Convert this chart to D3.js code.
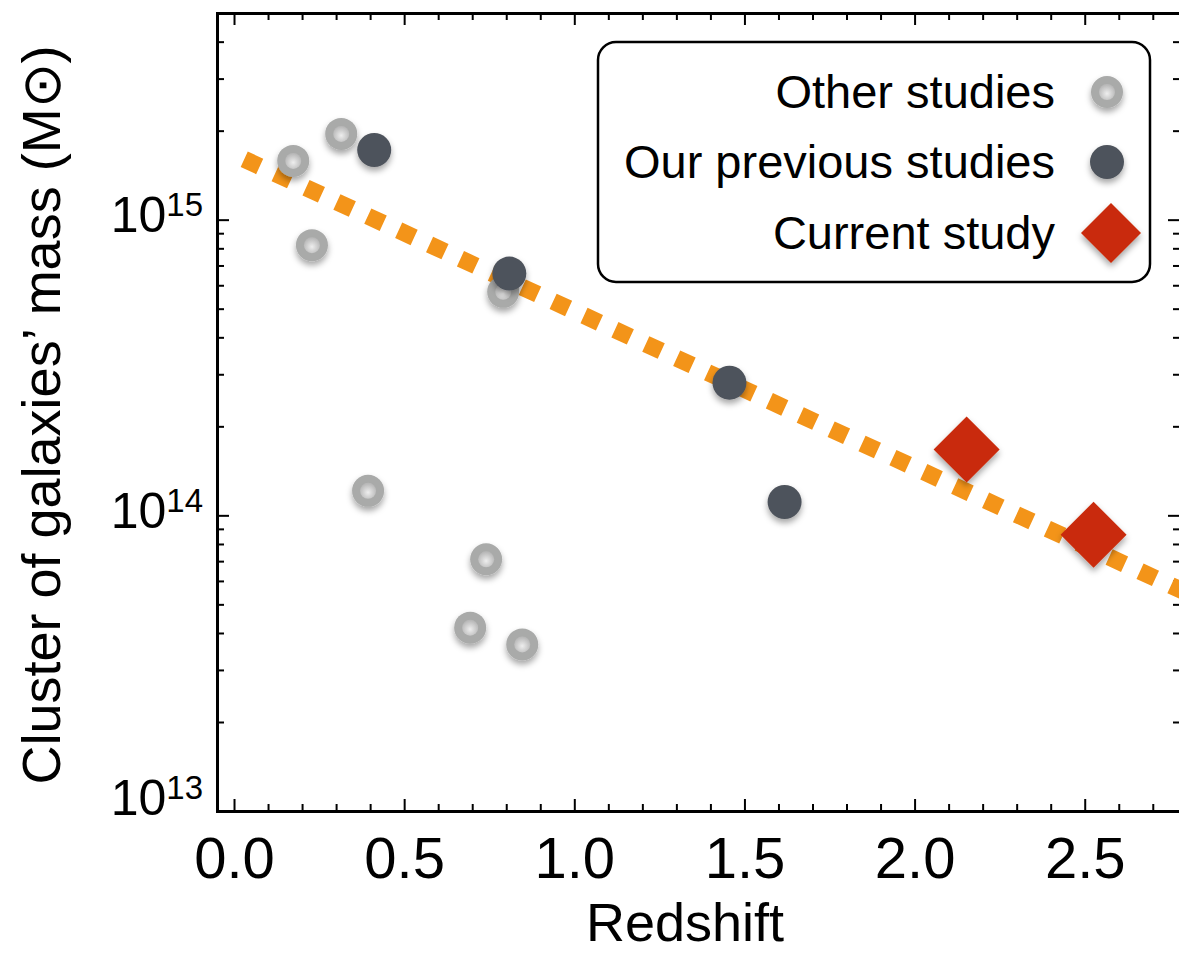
<!DOCTYPE html>
<html>
<head>
<meta charset="utf-8">
<script src="https://cdn.jsdelivr.net/npm/d3@7"></script>
<style>
  body { margin: 0; background: #fff; }
  text { font-family: "Liberation Sans", Arial, sans-serif; fill: #000; }
</style>
</head>
<body>
<script>
var W = 1179, H = 954;

// Other studies (light gray rings)
var otherZ = [0.174, 0.315, 0.229, 0.791, 0.394, 0.741, 0.694, 0.847];
var otherM = [1.58e15, 1.95e15, 8.2e14, 5.7e14, 1.21e14, 7.1e13, 4.17e13, 3.66e13];

// Our previous studies (dark circles)
var prevZ = [0.412, 0.809, 1.456, 1.618];
var prevM = [1.72e15, 6.57e14, 2.81e14, 1.11e14];

// Current study (red diamonds)
var curZ = [2.153, 2.526];
var curM = [1.67e14, 8.6e13];

// dashed trend line
var fitZ = [0.03, 2.8];
var fitM = [1.6e15, 5.47e13];

var xTicks = [0, 0.5, 1.0, 1.5, 2.0, 2.5];
var yTicks = [1e13, 1e14, 1e15];
var yExp = ["13", "14", "15"];

var legendLabels = ["Other studies", "Our previous studies", "Current study"];

var pL = 217, pR = 1180, pT = 13, pB = 811;

var x = d3.scaleLinear().domain([-0.05, 2.78]).range([pL, pR]);
var y = d3.scaleLog().domain([1e13, 5e15]).range([pB, pT]);

var svg = d3.select("body").append("svg")
    .attr("width", W)
    .attr("height", H);

var defs = svg.append("defs");

var shadow = defs.append("filter").attr("id", "shadow")
    .attr("x", "-50%").attr("y", "-50%").attr("width", "200%").attr("height", "200%");
shadow.append("feDropShadow")
    .attr("dx", 0).attr("dy", 4).attr("stdDeviation", 3)
    .attr("flood-color", "#000").attr("flood-opacity", 0.35);

var hole = defs.append("radialGradient").attr("id", "hole")
    .attr("cx", "50%").attr("cy", "60%").attr("r", "55%");
hole.append("stop").attr("offset", "0%").attr("stop-color", "#eeeeee");
hole.append("stop").attr("offset", "100%").attr("stop-color", "#b8b8b8");

defs.append("clipPath").attr("id", "plotclip")
  .append("rect")
    .attr("x", pL).attr("y", pT)
    .attr("width", pR - pL).attr("height", pB - pT);

// minor ticks
var xMinor = d3.range(0, 28).map(function(i){ return i / 10; })
    .filter(function(v){ return xTicks.indexOf(+v.toFixed(1)) < 0; });
var yMinor = [];
[1e13, 1e14, 1e15].forEach(function(d){
    for (var k = 2; k <= 9; k++) if (d * k <= 5e15) yMinor.push(d * k);
});

function styleAxis(g) {
    g.select(".domain").attr("stroke", "#000").attr("stroke-width", 3);
    g.selectAll(".tick line").attr("stroke", "#000").attr("stroke-width", 2);
}

// bottom
svg.append("g").attr("transform", "translate(0," + pB + ")")
    .call(d3.axisBottom(x).tickValues(xMinor).tickSize(-7).tickFormat(""))
    .call(styleAxis);
var xAxisG = svg.append("g").attr("transform", "translate(0," + pB + ")")
    .call(d3.axisBottom(x).tickValues(xTicks).tickSize(-12).tickSizeOuter(0)
        .tickPadding(26).tickFormat(d3.format(".1f")))
    .call(styleAxis);
xAxisG.selectAll(".tick text").attr("font-size", 58)
    .attr("font-family", "Liberation Sans, Arial, sans-serif");

// top
svg.append("g").attr("transform", "translate(0," + pT + ")")
    .call(d3.axisTop(x).tickValues(xMinor).tickSize(-7).tickFormat(""))
    .call(styleAxis);
svg.append("g").attr("transform", "translate(0," + pT + ")")
    .call(d3.axisTop(x).tickValues(xTicks).tickSize(-12).tickSizeOuter(0).tickFormat(""))
    .call(styleAxis);

// left
svg.append("g").attr("transform", "translate(" + pL + ",0)")
    .call(d3.axisLeft(y).tickValues(yMinor).tickSize(-7).tickFormat(""))
    .call(styleAxis);
var yAxisG = svg.append("g").attr("transform", "translate(" + pL + ",0)")
    .call(d3.axisLeft(y).tickValues(yTicks).tickSize(-12).tickSizeOuter(0)
        .tickPadding(14).tickFormat(""))
    .call(styleAxis);
yAxisG.selectAll(".tick text").each(function(d, i){
    var t = d3.select(this).attr("dy", null).attr("y", i === 0 ? 3 : 12)
        .attr("font-size", 50).attr("font-family", "Liberation Sans, Arial, sans-serif");
    t.append("tspan").text("10");
    t.append("tspan").attr("font-size", 33).attr("dy", -16).text(yExp[i]);
});

// right
svg.append("g").attr("transform", "translate(" + pR + ",0)")
    .call(d3.axisRight(y).tickValues(yMinor).tickSize(-7).tickFormat(""))
    .call(styleAxis);
svg.append("g").attr("transform", "translate(" + pR + ",0)")
    .call(d3.axisRight(y).tickValues(yTicks).tickSize(-12).tickSizeOuter(0).tickFormat(""))
    .call(styleAxis);

// axis titles
svg.append("text")
    .attr("x", 685).attr("y", 941)
    .attr("text-anchor", "middle")
    .attr("font-size", 54)
    .text("Redshift");

svg.append("text")
    .attr("transform", "translate(60,415) rotate(-90)")
    .attr("text-anchor", "middle")
    .attr("font-size", 54)
    .text("Cluster of galaxies\u2019 mass (M\u2299)");

// trend line
var plot = svg.append("g").attr("clip-path", "url(#plotclip)");
var line = d3.line()
    .x(function(d){ return x(d[0]); })
    .y(function(d){ return y(d[1]); });
plot.append("path")
    .datum(d3.zip(fitZ, fitM))
    .attr("d", line)
    .attr("fill", "none")
    .attr("stroke", "#f39419")
    .attr("stroke-width", 17)
    .attr("stroke-dasharray", "17,17");

// markers
function ring(g, cx, cy) {
    var m = g.append("g").attr("filter", "url(#shadow)");
    m.append("circle").attr("cx", cx).attr("cy", cy).attr("r", 16).attr("fill", "#a9aaa9");
    m.append("circle").attr("cx", cx).attr("cy", cy).attr("r", 8).attr("fill", "url(#hole)");
}
function dot(g, cx, cy) {
    g.append("circle").attr("cx", cx).attr("cy", cy).attr("r", 17)
        .attr("fill", "#4e535b").attr("filter", "url(#shadow)");
}
function diamond(g, cx, cy, s) {
    g.append("path")
        .attr("d", "M" + cx + "," + (cy - s) + "L" + (cx + s) + "," + cy +
              "L" + cx + "," + (cy + s) + "L" + (cx - s) + "," + cy + "Z")
        .attr("fill", "#c92a08").attr("filter", "url(#shadow)");
}

var marks = svg.append("g");
otherZ.forEach(function(z, i){ ring(marks, x(z), y(otherM[i])); });
prevZ.forEach(function(z, i){ dot(marks, x(z), y(prevM[i])); });
curZ.forEach(function(z, i){ diamond(marks, x(z), y(curM[i]), 33); });

// legend
var lg = svg.append("g");
lg.append("rect")
    .attr("x", 598).attr("y", 42)
    .attr("width", 552).attr("height", 240)
    .attr("rx", 18).attr("ry", 18)
    .attr("fill", "#fff")
    .attr("stroke", "#000")
    .attr("stroke-width", 2.5);

var rowY = [92, 162, 233];
legendLabels.forEach(function(s, i){
    lg.append("text")
        .attr("x", 1055).attr("y", rowY[i] + 16)
        .attr("text-anchor", "end")
        .attr("font-size", 47)
        .text(s);
});
ring(lg, 1107, rowY[0]);
dot(lg, 1107, rowY[1]);
diamond(lg, 1111, rowY[2], 30);
</script>
</body>
</html>
